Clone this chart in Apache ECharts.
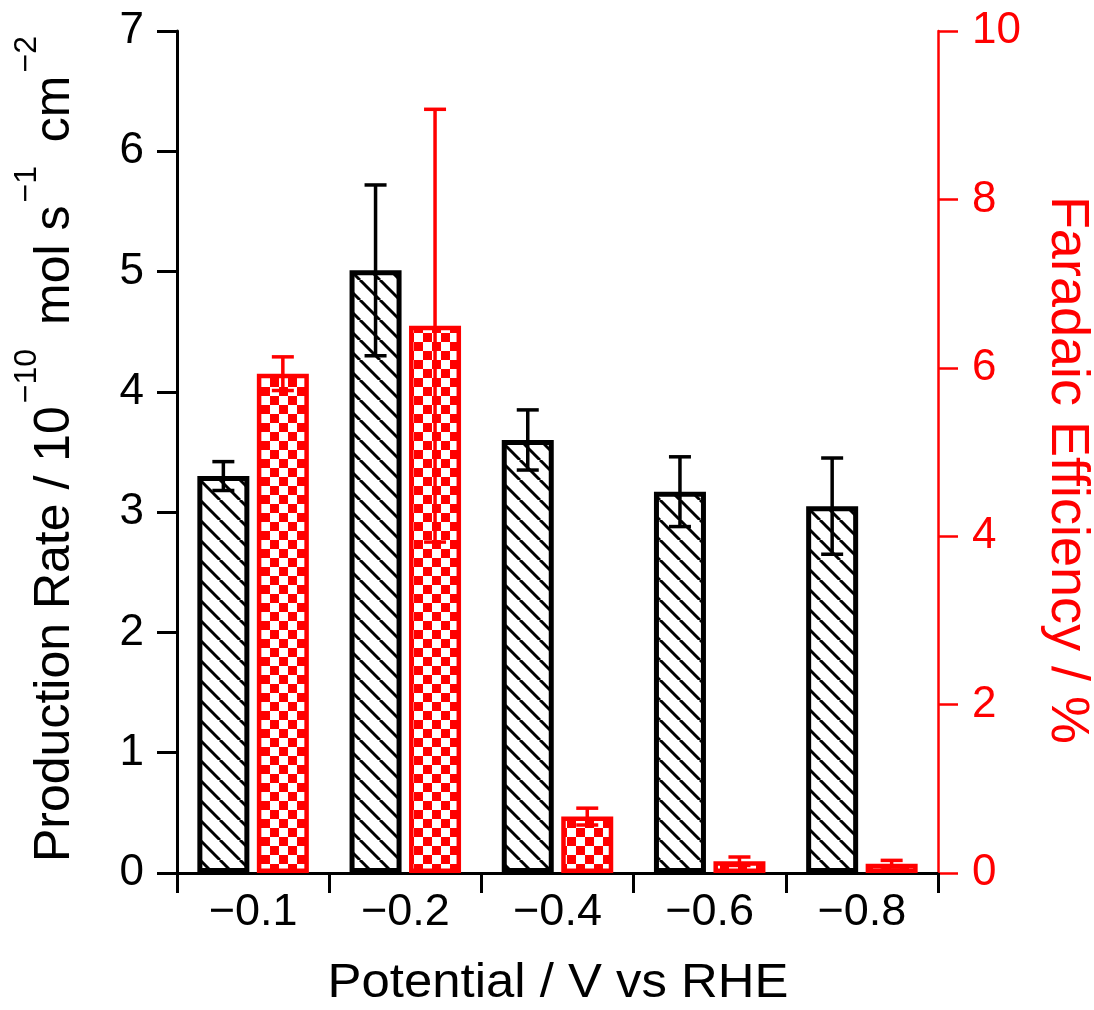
<!DOCTYPE html>
<html><head><meta charset="utf-8">
<script src="https://cdn.jsdelivr.net/npm/echarts@6/dist/echarts.min.js"></script>
<style>html,body{margin:0;padding:0;background:#fff}#c{width:1094px;height:1010px}</style>
</head><body><div id="c"></div>
<script>
// ---- data ----
const categories = ['\u22120.1', '\u22120.2', '\u22120.4', '\u22120.6', '\u22120.8'];
const productionRate = [3.30, 5.01, 3.60, 3.17, 3.05];
const productionRateErr = [0.12, 0.71, 0.25, 0.29, 0.40];
const faradaicEfficiency = [5.93, 6.50, 0.67, 0.14, 0.11];
const faradaicEfficiencyErr = [0.20, 2.57, 0.10, 0.05, 0.04];
const leftTicks = [0, 1, 2, 3, 4, 5, 6, 7];
const rightTicks = [0, 2, 4, 6, 8, 10];

const FONT = '"Liberation Sans", Arial, Helvetica, sans-serif';
const RED = '#ff0000';

function hatchPattern() {
  const s = 20, c = document.createElement('canvas');
  c.width = s; c.height = s;
  const g = c.getContext('2d');
  g.fillStyle = '#fff'; g.fillRect(0, 0, s, s);
  g.strokeStyle = '#000'; g.lineWidth = 3;
  for (const o of [-s, 0, s]) { g.beginPath(); g.moveTo(o, 0); g.lineTo(o + s, s); g.stroke(); }
  return c;
}
function checkerPattern() {
  const s = 9, c = document.createElement('canvas');
  c.width = 2 * s; c.height = 2 * s;
  const g = c.getContext('2d');
  g.fillStyle = '#fff'; g.fillRect(0, 0, 2 * s, 2 * s);
  g.fillStyle = RED; g.fillRect(0, 0, s, s); g.fillRect(s, s, s, s);
  return c;
}

const BAR_W = 52, BAR_GAP = '14.4%';
function errorSeries(vals, errs, axisIdx, barIdx, color) {
  return {
    type: 'custom', xAxisIndex: 0, yAxisIndex: axisIdx, z: 10,
    encode: { x: 0, y: [1, 2] },
    data: vals.map((v, i) => [i, v - errs[i], v + errs[i]]),
    renderItem(params, api) {
      let off = barIdx === 0 ? -29.75 : 29.75;
      if (api.barLayout) {
        const bl = api.barLayout({ barWidth: BAR_W, barGap: BAR_GAP, count: 2 });
        if (bl && bl[barIdx]) off = bl[barIdx].offsetCenter;
      }
      const lo = api.coord([api.value(0), api.value(1)]);
      const hi = api.coord([api.value(0), api.value(2)]);
      const x = lo[0] + off, w = 11;
      const st = { stroke: color, lineWidth: 3.5 };
      return { type: 'group', children: [
        { type: 'line', shape: { x1: x, y1: hi[1], x2: x, y2: lo[1] }, style: st },
        { type: 'line', shape: { x1: x - w, y1: hi[1], x2: x + w, y2: hi[1] }, style: st },
        { type: 'line', shape: { x1: x - w, y1: lo[1], x2: x + w, y2: lo[1] }, style: st }
      ] };
    }
  };
}

const SUP = { fontSize: 32, fontFamily: FONT, fill: '#000', lineHeight: 30, verticalAlign: 'bottom' };

const chart = echarts.init(document.getElementById('c'), null, { renderer: 'canvas' });
chart.setOption({
  animation: false,
  backgroundColor: '#fff',
  grid: { left: 177, right: 156, top: 31, bottom: 137, containLabel: false, outerBoundsMode: 'none' },
  xAxis: [{
    type: 'category', data: categories, position: 'bottom', offset: 4,
    axisLine: { lineStyle: { color: '#000', width: 3 } },
    axisTick: { show: true, length: 20, lineStyle: { color: '#000', width: 3 } },
    axisLabel: { color: '#000', fontSize: 45, fontFamily: FONT, margin: 13 }
  }, {
    type: 'category', data: categories, position: 'top',
    axisLine: { lineStyle: { color: '#000', width: 3 } },
    axisTick: { show: false }, axisLabel: { show: false }
  }],
  yAxis: [{
    type: 'value', position: 'left', min: leftTicks[0], max: leftTicks[leftTicks.length - 1], interval: 1,
    axisLine: { show: true, lineStyle: { color: '#000', width: 3 } },
    axisTick: { show: true, length: 20, lineStyle: { color: '#000', width: 3 } },
    axisLabel: { color: '#000', fontSize: 44, fontFamily: FONT, margin: 33 },
    splitLine: { show: false }
  }, {
    type: 'value', position: 'right', min: rightTicks[0], max: rightTicks[rightTicks.length - 1], interval: 2,
    axisLine: { show: true, lineStyle: { color: RED, width: 2.5 } },
    axisTick: { show: true, length: 20, lineStyle: { color: RED, width: 2.5 } },
    axisLabel: { color: RED, fontSize: 44, fontFamily: FONT, margin: 34 },
    splitLine: { show: false }
  }],
  series: [{
    type: 'bar', name: 'Production Rate', xAxisIndex: 0, yAxisIndex: 0,
    barWidth: BAR_W, barGap: BAR_GAP, data: productionRate,
    itemStyle: { color: { image: hatchPattern(), repeat: 'repeat' }, borderColor: '#000', borderWidth: 5 }
  }, {
    type: 'bar', name: 'Faradaic Efficiency', xAxisIndex: 0, yAxisIndex: 1,
    barWidth: BAR_W, barGap: BAR_GAP, data: faradaicEfficiency,
    itemStyle: { color: { image: checkerPattern(), repeat: 'repeat' }, borderColor: RED, borderWidth: 4.5 }
  },
  errorSeries(productionRate, productionRateErr, 0, 0, '#000'),
  errorSeries(faradaicEfficiency, faradaicEfficiencyErr, 1, 1, RED)
  ],
  graphic: [{
    type: 'text', x: 558, y: 984, scaleX: 1.06,
    style: { text: 'Potential / V vs RHE', fontSize: 48, fontFamily: FONT, fill: '#000', align: 'center', verticalAlign: 'middle' }
  }, {
    type: 'text', x: 53, y: 862, rotation: Math.PI / 2,
    style: {
      text: '{n|Production Rate / 10}{a|\u221210}{n| mol s}{a|\u22121}{n| cm}{c|\u22122}',
      align: 'left', verticalAlign: 'middle',
      rich: {
        n: { fontSize: 50, fontFamily: FONT, fill: '#000', lineHeight: 54, verticalAlign: 'bottom' },
        a: Object.assign({ padding: [0, 10, 37, 3] }, SUP),
        c: Object.assign({ padding: [0, 0, 37, 3] }, SUP)
      }
    }
  }, {
    type: 'text', x: 1067, y: 470, rotation: -Math.PI / 2,
    style: { text: 'Faradaic Efficiency / %', fontSize: 54, fontFamily: FONT, fill: RED, align: 'center', verticalAlign: 'middle' }
  }]
});
</script>
</body></html>
